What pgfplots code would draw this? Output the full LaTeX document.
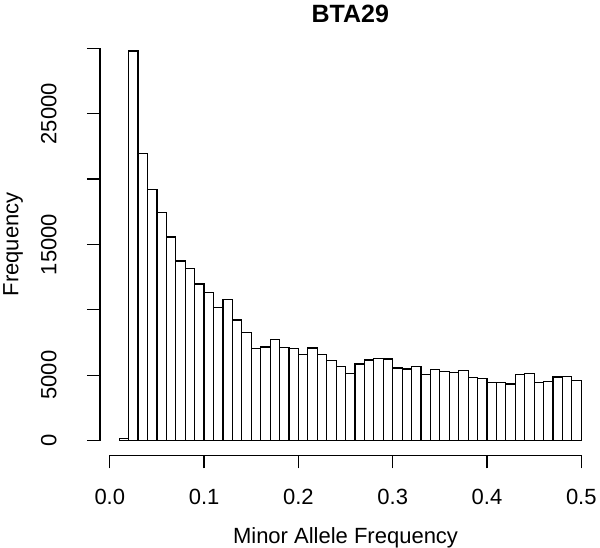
\documentclass[border=0pt]{standalone}
\usepackage{fontspec}
\setmainfont{Liberation Sans}
\usepackage{pgfplots}
\pgfplotsset{compat=1.18}
\begin{document}
\begin{tikzpicture}[font=\fontsize{11}{13}\selectfont]
\useasboundingbox (-54.9pt,-53.2pt) rectangle (245.1pt,220.3pt);
\begin{axis}[
  scale only axis,
  width=235.75pt, height=196.15pt,
  xmin=0, xmax=0.5, ymin=0, ymax=30000,
  axis lines=left,
  axis line style={-, line width=0.6pt},
  axis x line shift=7.35pt,
  axis y line shift=4.9pt,
  tick align=outside,
  major tick length=6.5pt,
  every tick/.style={black, line width=0.6pt},
  xtick={0,0.1,0.2,0.3,0.4,0.5},
  xticklabels={0.0,0.1,0.2,0.3,0.4,0.5},
  ytick={0,5000,10000,15000,20000,25000,30000},
  yticklabels={0,5000,,15000,,25000,},
  scaled y ticks=false,
  scaled x ticks=false,
  xticklabel style={anchor=north, inner sep=0pt, yshift=-10pt},
  yticklabel style={rotate=90, anchor=south, inner sep=0pt, yshift=15pt},
  /pgf/number format/assume math mode=true,
  clip=false,
]
\addplot[ybar interval, fill=white, draw=black, line width=0.6pt] coordinates {
(0.01,150) (0.02,29790) (0.03,21970) (0.04,19190) (0.05,17430)
(0.06,15570) (0.07,13730) (0.08,13180) (0.09,11980) (0.10,11310)
(0.11,10190) (0.12,10770) (0.13,9220) (0.14,8250) (0.15,7060)
(0.16,7160) (0.17,7720) (0.18,7130) (0.19,7030) (0.20,6600)
(0.21,7080) (0.22,6570) (0.23,6110) (0.24,5650) (0.25,5150)
(0.26,5860) (0.27,6160) (0.28,6260) (0.29,6240) (0.30,5550)
(0.31,5480) (0.32,5650) (0.33,5040) (0.34,5420) (0.35,5270)
(0.36,5190) (0.37,5350) (0.38,4810) (0.39,4730) (0.40,4430)
(0.41,4460) (0.42,4330) (0.43,5070) (0.44,5150) (0.45,4430)
(0.46,4500) (0.47,4860) (0.48,4920) (0.49,4610) (0.50,4610)
};
\node[anchor=base, font=\bfseries\fontsize{12.5}{15}\selectfont] at (rel axis cs:0.51,1) [yshift=12.9pt] {BTA29};
\node[anchor=base] at (rel axis cs:0.5,0) [yshift=-51.35pt] {Minor Allele Frequency};
\end{axis}
\node[rotate=90, anchor=base] at (-45.75pt,98.1pt) {Frequency};
\end{tikzpicture}
\end{document}
